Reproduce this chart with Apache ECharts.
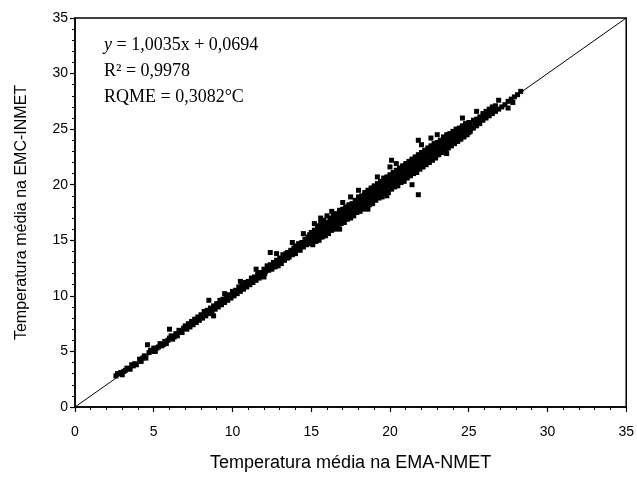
<!DOCTYPE html>
<html>
<head>
<meta charset="utf-8">
<script src="https://cdn.jsdelivr.net/npm/echarts@6/dist/echarts.min.js"></script>
<style>html,body{margin:0;padding:0;background:#fff}#c{width:637px;height:477px}</style>
</head>
<body>
<div id="c"></div>
<script>
// Axis ticks
var eixoTicks = [0, 5, 10, 15, 20, 25, 30, 35];
var eixoMin = 0, eixoMax = 35, eixoPasso = 5;

// Reference 1:1 line
var linha11 = [[0, 0], [35, 35]];

// Scatter: [EMA-NMET, EMC-INMET]
var pontosFrio = [
 [2.6,2.8],[2.7,3.0],[2.9,3.1],[3.0,2.9],[3.2,3.3],[3.3,3.5],[3.5,3.4],[3.6,3.8],[3.8,3.9],[3.9,3.8],
 [4.1,4.3],[4.2,4.1],[4.4,4.6],[4.5,4.4],[4.6,5.6],[4.7,4.9],[4.9,5.0],[5.0,5.3],[5.1,5.0],[5.3,5.4],
 [5.4,5.7],[5.5,5.5],[5.7,5.9],[5.8,5.7],[6.0,6.2],[6.0,7.0],[6.1,6.4],[6.2,6.1],[6.4,6.6],[6.5,6.4],
 [6.6,6.9],[6.8,6.7],[6.9,7.1],
 [3.1,3.2],[3.7,3.7],[4.3,4.4],[4.8,5.1],[5.2,5.3],[5.6,5.6],[5.9,6.0],[6.3,6.3],[6.7,6.8]
];
var pontosMedio = [
 [7.0,7.3],[7.1,7.0],[7.2,7.5],[7.3,7.2],[7.4,7.7],[7.5,7.4],[7.6,7.9],[7.7,7.6],[7.8,8.1],[7.9,7.8],
 [8.0,8.3],[8.1,8.0],[8.2,8.6],[8.3,8.2],[8.4,8.7],[8.5,9.6],[8.5,8.4],[8.6,8.9],[8.7,8.6],[8.8,8.2],
 [8.8,9.1],[8.9,8.8],[9.0,9.3],[9.1,9.0],[9.2,9.6],[9.3,9.2],[9.4,9.7],[9.5,9.4],[9.6,10.0],[9.7,9.6],
 [9.8,10.1],[9.9,9.8],[10.0,10.4],[10.1,10.0],[10.2,10.5],[10.3,10.2],[10.4,10.8],[10.5,10.4],[10.6,10.9],[10.7,10.6],
 [10.8,11.2],[10.9,10.8],[11.0,11.3],[11.1,11.0],[11.2,11.6],[11.3,11.2],[11.4,11.7],[11.5,11.4],[11.6,12.0],[11.7,11.6],
 [11.8,12.1],[11.9,11.8],[12.0,12.4],[12.0,11.7],
 [12.1,12.2],[12.2,12.7],[12.3,12.3],[12.4,13.9],[12.4,12.8],[12.5,12.4],[12.6,13.0],[12.7,12.6],[12.8,13.2],[12.9,12.7],
 [13.0,13.4],[13.0,13.0],[13.1,12.9],[13.2,13.7],[13.3,13.2],[13.4,13.8],[13.5,13.4],[13.5,13.9],[13.6,13.5],[13.7,14.1],
 [13.8,13.7],[13.9,14.3],[14.0,13.8],[14.0,14.5],[14.1,14.2],[14.2,14.7],[14.3,14.1],[14.4,14.8],[14.5,14.4],[14.6,15.1],
 [14.7,14.6],[14.8,15.3],[14.9,14.7],[14.9,15.5],[15.0,15.2],
 [9.25,9.4],[9.65,9.8],[10.05,10.2],[10.45,10.6],[10.85,11.0],[11.25,11.4],[11.65,11.8],[12.05,12.0],[12.25,12.4],[12.45,12.6],
 [12.65,12.8],[12.85,13.0],[13.05,13.2],[13.25,13.4],[13.45,13.6],[13.65,13.8],[13.85,14.0],[14.05,14.2],[14.25,14.4],[14.45,14.6],
 [14.65,14.9],[14.85,15.0],[9.5,10.2],[10.5,11.3],[11.5,12.4],[12.8,13.8],[13.8,14.8],[14.5,15.6]
];
var pontosQuente = [
 [15.1,14.6],[15.1,15.0],[15.1,15.5],[15.2,16.5],[15.3,14.9],[15.3,15.4],[15.3,15.9],[15.4,16.3],
 [15.5,15.0],[15.5,15.6],[15.5,16.0],[15.6,16.6],[15.7,15.3],[15.7,15.7],[15.7,16.2],[15.8,16.8],
 [15.9,15.4],[15.9,16.0],[15.9,16.5],[16.0,17.2],[16.1,15.6],[16.1,16.1],[16.1,16.6],[16.2,17.0],
 [16.3,15.9],[16.3,16.4],[16.3,16.8],[16.4,17.3],[16.5,16.0],[16.5,16.5],[16.5,17.0],[16.6,17.4],
 [16.7,16.2],[16.7,16.8],[16.7,17.1],[16.8,17.7],[16.9,16.5],[16.9,16.9],[16.9,17.4],[17.0,17.8],
 [17.1,16.6],[17.1,17.2],[17.1,17.6],[17.2,18.0],[17.3,16.9],[17.3,17.3],[17.3,17.8],[17.4,18.2],
 [17.5,17.0],[17.5,17.6],[17.5,18.0],[17.5,18.9],[17.7,17.2],[17.7,17.7],[17.7,18.2],[17.8,18.6],
 [17.9,17.5],[17.9,18.0],[17.9,18.4],[18.0,18.9],[18.1,17.6],[18.1,18.1],[18.1,18.6],[18.2,19.0],
 [18.3,17.8],[18.3,18.3],[18.3,18.8],[18.4,19.3],[18.5,18.0],[18.5,18.6],[18.5,19.0],[18.6,19.5],
 [18.7,18.2],[18.7,18.8],[18.7,19.2],[18.8,19.7],[18.9,18.3],[18.9,19.0],[18.9,19.4],[19.0,19.9],
 [19.1,18.6],[19.1,19.1],[19.1,19.6],[19.2,20.1],[19.3,18.8],[19.3,19.4],[19.3,19.8],[19.4,20.3],
 [19.5,18.9],[19.5,19.5],[19.5,20.0],[19.6,20.6],[19.7,19.2],[19.7,19.8],[19.7,20.2],[19.8,20.7],
 [19.9,19.3],[19.9,19.9],[19.9,20.4],[20.0,20.9],[20.0,21.6],[20.1,22.2],[20.1,19.6],[20.1,20.2],
 [20.1,20.6],[20.2,21.1],[20.3,19.8],[20.3,20.3],[20.3,20.8],[20.4,21.3],[20.5,19.9],[20.5,20.6],
 [20.5,21.0],[20.6,21.5],[20.7,20.2],[20.7,20.7],[20.7,21.2],[20.8,21.7],[20.9,20.3],[20.9,21.0],
 [20.9,21.4],[21.0,21.9],[21.1,20.6],[21.1,21.1],[21.1,21.6],[21.2,22.1],[21.3,20.8],[21.3,21.4],
 [21.3,21.8],[21.4,22.3],[21.4,20.0],[21.5,21.0],[21.5,21.5],[21.5,22.0],[21.6,22.5],[21.7,21.1],
 [21.7,21.8],[21.7,22.2],[21.8,22.7],[21.8,19.1],[21.8,24.0],[21.9,21.4],[21.9,21.9],[21.9,22.4],
 [22.0,22.9],[22.1,21.6],[22.1,22.2],[22.1,22.6],[22.2,23.1],[22.3,21.8],[22.3,22.3],[22.3,22.8],
 [22.4,23.3],[22.5,22.0],[22.5,22.6],[22.5,23.0],[22.6,23.5],[22.6,24.2],[22.7,22.2],[22.7,22.8],
 [22.7,23.2],[22.8,23.7],[22.9,22.4],[22.9,23.0],[22.9,23.4],[23.0,23.8],[23.1,22.7],[23.1,23.2],
 [23.1,23.6],[23.2,24.0],[23.3,22.9],[23.3,23.4],[23.3,23.8],[23.4,24.3],[23.5,23.1],[23.5,23.6],
 [23.5,24.0],[23.6,24.5],[23.7,23.3],[23.7,23.8],[23.7,24.2],[23.8,24.6],[23.9,23.5],[23.9,24.0],
 [23.9,24.4],[24.0,24.8],[24.1,23.7],[24.1,24.2],[24.1,24.6],[24.2,25.0],[24.3,23.9],[24.3,24.4],
 [24.3,24.8],[24.4,25.1],[24.5,24.1],[24.5,24.6],[24.5,25.0],[24.6,25.3],[24.7,24.3],[24.7,24.8],
 [24.7,25.1],[24.8,25.5],[24.9,24.5],[24.9,25.0],[24.9,25.3],[25.0,25.6]
];
var pontosQuente2 = [
 [15.0,14.8],[15.0,15.3],[15.0,15.7],[15.2,15.0],[15.2,15.4],[15.2,15.9],[15.4,15.1],[15.4,15.7],[15.4,16.1],
 [15.6,15.3],[15.6,15.8],[15.6,16.3],[15.8,15.6],[15.8,16.0],[15.8,16.4],[16.0,15.7],[16.0,16.3],[16.0,16.6],
 [16.2,15.9],[16.2,16.4],[16.2,16.9],[16.4,16.2],[16.4,16.6],[16.4,17.0],[16.6,16.3],[16.6,16.9],[16.6,17.3],
 [16.8,16.5],[16.8,17.0],[16.8,17.5],[17.0,16.8],[17.0,17.3],[17.0,17.6],[17.2,16.9],[17.2,17.4],[17.2,17.9],
 [17.4,17.2],[17.4,17.7],[17.4,18.1],[17.6,17.3],[17.6,17.9],[17.6,18.3],[17.8,17.6],[17.8,18.0],[17.8,18.5],
 [18.0,17.7],[18.0,18.3],[18.0,18.6],[18.2,17.9],[18.2,18.4],[18.2,18.9],[18.4,18.2],[18.4,18.7],[18.4,19.1],
 [18.6,18.3],[18.6,18.8],[18.6,19.3],[18.8,18.5],[18.8,19.1],[18.8,19.5],[19.0,18.7],[19.0,19.2],[19.0,19.7],
 [19.2,18.9],[19.2,19.5],[19.2,19.8],[19.4,19.1],[19.4,19.6],[19.4,20.1],[19.6,19.3],[19.6,19.9],[19.6,20.3],
 [19.8,19.5],[19.8,20.0],[19.8,20.5],[20.0,19.7],[20.0,20.2],[20.0,20.7],[20.2,19.9],[20.2,20.5],[20.2,20.9],
 [20.4,20.1],[20.4,20.6],[20.4,21.1],[20.6,20.3],[20.6,20.9],[20.6,21.3],[20.8,20.5],[20.8,21.0],[20.8,21.5],
 [21.0,20.7],[21.0,21.3],[21.0,21.7],[21.2,20.9],[21.2,21.4],[21.2,21.9],[21.4,21.1],[21.4,21.7],[21.4,22.1],
 [21.6,21.3],[21.6,21.8],[21.6,22.3],[21.8,21.5],[21.8,22.0],[21.8,22.5],[22.0,21.7],[22.0,22.3],[22.0,22.7],
 [22.2,21.9],[22.2,22.4],[22.2,22.9],[22.4,22.1],[22.4,22.7],[22.4,23.1],[22.6,22.3],[22.6,22.8],[22.6,23.3],
 [22.8,22.5],[22.8,23.1],[22.8,23.5],[23.0,22.7],[23.0,23.2],[23.0,23.7],[23.2,22.9],[23.2,23.5],[23.2,23.9],
 [23.4,23.1],[23.4,23.6],[23.4,24.1],[23.6,23.3],[23.6,23.9],[23.6,24.3],[23.8,23.5],[23.8,24.0],[23.8,24.5],
 [24.0,23.7],[24.0,24.3],[24.0,24.6],[24.2,23.9],[24.2,24.4],[24.2,24.8],[24.4,24.1],[24.4,24.7],[24.4,25.0],
 [24.6,24.3],[24.6,24.8],[24.6,25.2],[24.8,24.5],[24.8,25.0],[24.8,25.4],[25.0,24.7],[25.0,25.2],[25.0,25.5],
 [15.6,17.0],[16.3,17.6],[17.0,18.4],[18.0,19.5],[19.2,20.7],[20.4,21.9],[22.0,23.6],[23.0,24.5],
 [16.8,16.0],[18.6,17.8],[19.8,19.0],[23.6,22.8],[24.6,26.0]
];
var pontosTopo = [
 [25.1,24.8],[25.1,25.4],[25.3,25.1],[25.3,25.8],[25.5,25.3],[25.5,25.9],[25.7,25.5],[25.7,26.1],
 [25.9,25.8],[25.9,26.4],[26.1,26.0],[26.1,26.6],[26.3,26.2],[26.3,26.8],[26.5,26.4],[26.5,27.0],
 [26.7,26.6],[26.7,27.1],[26.9,26.8],[26.9,27.6],[27.1,27.0],[27.3,27.2],[27.5,26.9],[27.5,27.5],
 [27.7,27.7],[27.8,27.4],[27.9,27.9],[28.1,28.1],[28.3,28.4],
 [25.2,25.1],[25.4,25.6],[25.6,25.6],[25.8,26.0],[26.0,26.2],[26.2,26.4],[26.4,26.6],[26.6,26.8],[25.5,26.6]
];
var pontos = pontosFrio.concat(pontosMedio, pontosQuente, pontosQuente2, pontosTopo);

var eqLinhas = ['{i|y} = 1,0035x + 0,0694', 'R² = 0,9978', 'RQME = 0,3082°C'];

var chart = echarts.init(document.getElementById('c'), null, {renderer: 'canvas'});
var eixoComum = {
  type: 'value', min: eixoMin, max: eixoMax, interval: eixoPasso,
  splitLine: {show: false},
  axisLine: {show: true, lineStyle: {color: '#000', width: 1.5}},
  axisTick: {show: true, inside: false, length: 5, lineStyle: {color: '#000', width: 1.2}},
  minorTick: {show: true, splitNumber: 5, length: 3, lineStyle: {color: '#000', width: 1}},
  axisLabel: {color: '#000', fontFamily: 'Liberation Sans', fontSize: 14,
    formatter: function (v) { return eixoTicks.indexOf(v) >= 0 ? String(v) : ''; }},
  nameLocation: 'middle'
};
chart.setOption({
  animation: false,
  backgroundColor: '#fff',
  grid: {left: 75, right: 5, top: 18, bottom: 66, show: true, borderColor: '#000', borderWidth: 1.5},
  xAxis: Object.assign({}, eixoComum, {name: 'Temperatura média na EMA-NMET', nameGap: 47,
    nameTextStyle: {color: '#000', fontFamily: 'Liberation Sans', fontSize: 18},
    axisLabel: Object.assign({}, eixoComum.axisLabel, {margin: 18})}),
  yAxis: Object.assign({}, eixoComum, {name: 'Temperatura média na EMC-INMET', nameGap: 45,
    nameTextStyle: {color: '#000', fontFamily: 'Liberation Sans', fontSize: 16},
    axisLabel: Object.assign({}, eixoComum.axisLabel, {margin: 7})}),
  graphic: eqLinhas.map(function (t, k) {
    return {type: 'text', left: 104, top: 36 + k * 26, z: 10,
      style: {text: t, fill: '#000', font: '18px "Liberation Serif"',
        rich: {i: {fontStyle: 'italic', fontFamily: 'Liberation Serif', fontSize: 18, fill: '#000'}}}};
  }),
  series: [
    {type: 'line', data: linha11, symbol: 'none', lineStyle: {color: '#000', width: 1}, z: 1, silent: true},
    {type: 'scatter', data: pontos, symbol: 'rect', symbolSize: 5,
      itemStyle: {color: '#000', opacity: 1}, z: 2, silent: true}
  ]
});
</script>
</body>
</html>
